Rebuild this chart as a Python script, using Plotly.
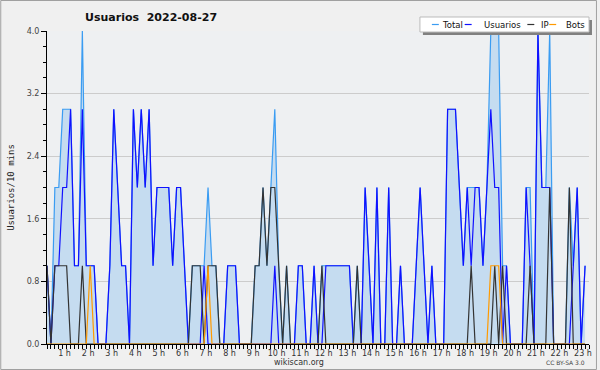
import plotly.graph_objects as go

# ---- data (10-minute intervals, 2022-08-27) ----
total = [1,0,2,2,3,3,3,1,1,4, 1,1,1,0,0,0,1,3,2,1, 1,0,3,2,3,2,3,1,2,2,
         2,2,1,2,2,1,0,1,1,1, 1,2,1,1,0,0,1,1,1,0, 0,0,0,1,1,2,1,2,3,1,
         0,1,0,0,1,1,0,0,1,0, 1,1,1,1,1,1,1,1,0,1, 0,2,1,0,2,0,0,2,0,0,
         1,0,0,0,1,2,1,0,1,0, 0,0,3,3,3,2,1,2,2,2, 2,1,2,4,4,4,1,1,0,0,
         0,0,2,2,0,4,2,2,4,0, 0,0,0,2,1,2,0,1]
usuarios = [1,0,1,1,2,2,3,1,1,3, 1,1,1,0,0,0,1,3,2,1, 1,0,3,2,3,2,3,1,2,2,
            2,2,1,2,2,1,0,0,0,0, 1,0,0,0,0,0,1,1,1,0, 0,0,0,0,0,0,0,0,1,0,
            0,0,0,0,1,1,0,0,1,0, 0,1,1,1,1,1,1,1,0,0, 0,2,1,0,2,0,0,2,0,0,
            1,0,0,0,1,2,1,0,1,0, 0,0,3,3,3,2,1,2,1,2, 2,1,2,3,2,2,0,1,0,0,
            0,0,2,1,0,4,2,2,2,0, 0,0,0,0,1,2,0,1]
ip = [1,0,1,1,1,1,0,0,0,1, 0,0,0,0,0,0,0,0,0,0, 0,0,0,0,0,0,0,0,0,0,
      0,0,0,0,0,0,0,1,1,1, 0,1,1,1,0,0,0,0,0,0, 0,0,0,1,1,2,1,2,2,1,
      0,1,0,0,0,0,0,0,0,0, 1,0,0,0,0,0,0,0,0,1, 0,0,0,0,0,0,0,0,0,0,
      0,0,0,0,0,0,0,0,0,0, 0,0,0,0,0,0,0,0,1,0, 0,0,0,0,1,0,1,0,0,0,
      0,0,0,1,0,0,0,0,2,0, 0,0,0,2,0,0,0,0]
bots = [0,0,0,0,0,0,0,0,0,0, 0,1,0,0,0,0,0,0,0,0, 0,0,0,0,0,0,0,0,0,0,
        0,0,0,0,0,0,0,0,0,0, 0,1,0,0,0,0,0,0,0,0, 0,0,0,0,0,0,0,0,0,0,
        0,0,0,0,0,0,0,0,0,0, 0,0,0,0,0,0,0,0,0,0, 0,0,0,0,0,0,0,0,0,0,
        0,0,0,0,0,0,0,0,0,0, 0,0,0,0,0,0,0,0,0,0, 0,0,0,1,1,1,0,0,0,0,
        0,0,0,0,0,0,0,0,0,0, 0,0,0,0,0,0,0,0]
hour_ticks = [6 * h for h in range(1, 24)]
hour_labels = [f"{h} h" for h in range(1, 24)]
y_ticks = [0, 0.8, 1.6, 2.4, 3.2, 4.0]
y_labels = ["0.0", "0.8", "1.6", "2.4", "3.2", "4.0"]
series_names = ["Total", "Usuarios", "IP", "Bots"]
series_colors = ["#3a9cf2", "#1010ff", "#333333", "#ff9a00"]

x = list(range(len(total)))

W_FIG, H_FIG = 600, 370
L, R, T, B = 47, 8, 31, 26
PW, PH = W_FIG - L - R, H_FIG - T - B

def px(xp):
    return (xp - L) / PW

def py(yp):
    return 1 - (yp - T) / PH

fig = go.Figure()
fig.add_trace(go.Scatter(x=x, y=total, mode="lines", name="Total",
                         line=dict(color=series_colors[0], width=1.2),
                         fill="tozeroy", fillcolor="#c5dcf0"))
fig.add_trace(go.Scatter(x=x, y=usuarios, mode="lines", name="Usuarios",
                         line=dict(color=series_colors[1], width=1.2)))
fig.add_trace(go.Scatter(x=x, y=ip, mode="lines", name="IP",
                         line=dict(color=series_colors[2], width=1.2)))
fig.add_trace(go.Scatter(x=x, y=bots, mode="lines", name="Bots",
                         line=dict(color=series_colors[3], width=1.2)))

fig.update_layout(
    width=W_FIG, height=H_FIG,
    margin=dict(l=L, r=R, t=T, b=B, pad=0),
    paper_bgcolor="#f0f0f0", plot_bgcolor="#eef0f2",
    showlegend=False,
    font=dict(family="DejaVu Sans", color="#333333"),
    title=dict(text="<b>Usuarios  2022-08-27</b>", x=85 / W_FIG, xanchor="left",
               xref="container", y=1 - 17 / H_FIG, yanchor="middle", yref="container",
               font=dict(family="DejaVu Sans", size=11, color="#111111")),
    xaxis=dict(range=[0, 138], tickvals=hour_ticks, ticktext=hour_labels,
               ticks="outside", ticklen=4, tickcolor="black",
               ticklabelshift=-6, ticklabelstandoff=-3,
               showgrid=False, zeroline=False,
               showline=True, linecolor="black", linewidth=1,
               tickfont=dict(size=8, color="#333333"),
               minor=dict(dtick=1, tick0=0, ticks="outside", ticklen=4,
                          tickcolor="black", showgrid=False)),
    yaxis=dict(range=[0, 4], tickvals=y_ticks, ticktext=y_labels,
               ticks="outside", ticklen=5, tickcolor="black",
               showgrid=True, gridcolor="#cccccc", gridwidth=1,
               zeroline=False, showline=True, linecolor="black", linewidth=1,
               tickfont=dict(size=8, color="#444444"),
               title=dict(text="Usuarios/10 mins", standoff=10,
                          font=dict(family="DejaVu Sans Mono", size=9, color="#222222")),
               minor=dict(dtick=0.2, tick0=0, ticks="outside", ticklen=3,
                          tickcolor="black", showgrid=False)),
)

shapes = []
# outer border
shapes.append(dict(type="rect", xref="paper", yref="paper",
                   x0=px(0.5), x1=px(W_FIG - 0.5), y0=py(H_FIG - 0.5), y1=py(0.5),
                   line=dict(color="#a0a0a0", width=1), fillcolor="rgba(0,0,0,0)", layer="above"))
# legend shadow and box
lx0, lx1, ly0, ly1 = 422, 592, 17, 32
shapes.append(dict(type="rect", xref="paper", yref="paper",
                   x0=px(lx0 + 3), x1=px(lx1 + 3), y0=py(ly1 + 3), y1=py(ly0 + 3),
                   line=dict(width=0), fillcolor="#808080", layer="above"))
shapes.append(dict(type="rect", xref="paper", yref="paper",
                   x0=px(lx0), x1=px(lx1), y0=py(ly1), y1=py(ly0),
                   line=dict(color="#bbbbbb", width=1), fillcolor="white", layer="above"))

annotations = []
leg_items = [(434, 442), (467, 484), (530, 542), (552, 567)]
ly = (ly0 + ly1) / 2
for (sx, tx), name, col in zip(leg_items, series_names, series_colors):
    shapes.append(dict(type="line", xref="paper", yref="paper",
                       x0=px(sx), x1=px(sx + 7), y0=py(ly), y1=py(ly),
                       line=dict(color=col, width=1.2), layer="above"))
    annotations.append(dict(text=name, xref="paper", yref="paper",
                            x=px(tx), y=py(ly), xanchor="left", yanchor="middle",
                            showarrow=False,
                            font=dict(family="DejaVu Sans", size=8.5, color="#111111")))

annotations.append(dict(text="wikiscan.org", xref="paper", yref="paper",
                        x=px(300), y=py(362), xanchor="center", yanchor="middle",
                        showarrow=False, font=dict(family="DejaVu Sans", size=8, color="#333333")))
annotations.append(dict(text="CC BY-SA 3.0", xref="paper", yref="paper",
                        x=px(590), y=py(362), xanchor="right", yanchor="middle",
                        showarrow=False, font=dict(family="DejaVu Sans", size=6, color="#444444")))

fig.update_layout(shapes=shapes, annotations=annotations)
fig.write_html("out.html", config={"displayModeBar": False},
               post_script="document.body.style.margin='0px';")
